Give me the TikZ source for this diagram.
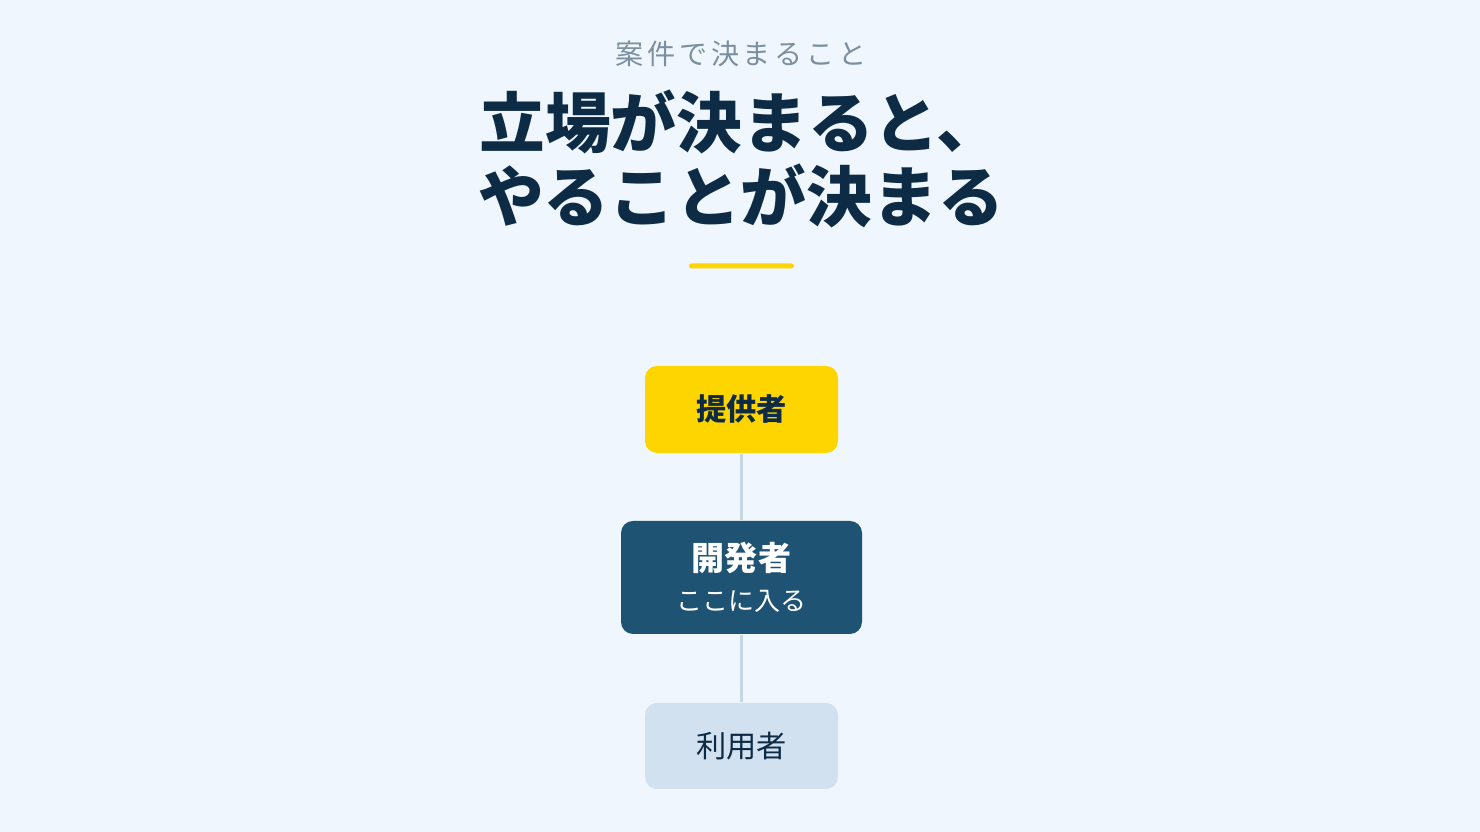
\documentclass[tikz,border=0pt]{standalone}
\usepackage{fontspec}
\setmainfont{Noto Sans CJK JP}
\newfontfamily\spacedfont[LetterSpace=13]{Noto Sans CJK JP}
\usetikzlibrary{positioning}

\definecolor{pagebg}{HTML}{EFF6FD}
\definecolor{titleink}{HTML}{0D2B45}
\definecolor{subink}{HTML}{7B8FA1}
\definecolor{accent}{HTML}{FFD500}
\definecolor{devblue}{HTML}{1F5374}
\definecolor{userblue}{HTML}{D1E1EF}
\definecolor{linkgray}{HTML}{C6D7E3}

\tikzset{
  rolebox/.style={rounded corners=0.12cm, inner sep=0pt, minimum width=1.93cm, minimum height=0.87cm, align=center},
  link/.style={draw=linkgray, line width=0.85pt}
}

\begin{document}
\begin{tikzpicture}
				\fill[pagebg] (0,0) rectangle (14.8,8.32);
				\useasboundingbox (0,0) rectangle (14.8,8.32);
				% heading
				\node[text=subink, font=\spacedfont\fontsize{8}{9}\selectfont] (kicker) at (7.41,7.78) {案件で決まること};
				\node[text=titleink, align=center, font=\fontsize{18.7}{21.3}\selectfont\bfseries] (headline) at (7.41,6.73) {立場が決まると、\\やることが決まる};
				\fill[accent, rounded corners=0.025cm] (6.89,5.685) rectangle (7.94,5.635);
				% roles
				\node[rolebox, fill=accent, text=titleink, font=\fontsize{8.6}{10}\selectfont\bfseries] (provider) at (7.415,4.225) {提供者};
				\node[rolebox, fill=devblue, text=white, minimum width=2.41cm, minimum height=1.13cm] (developer) at (7.415,2.545) {{\fontsize{9.4}{11}\selectfont\bfseries 開発者}\\[-0.5pt]{\fontsize{7.4}{9}\selectfont ここに入る}};
				\node[rolebox, fill=userblue, text=titleink, minimum height=0.86cm, font=\fontsize{8.6}{10}\selectfont] (user) at (7.415,0.86) {利用者};
				\draw[link] (provider) -- (developer);
				\draw[link] (developer) -- (user);
				\end{tikzpicture}
\end{document}
